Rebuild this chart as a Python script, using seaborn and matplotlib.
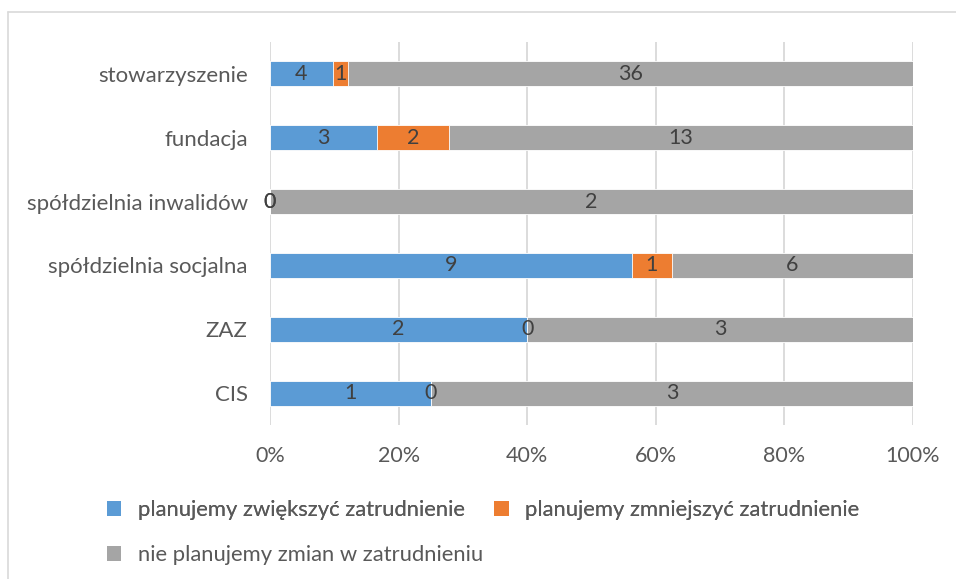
import matplotlib
matplotlib.use("Agg")
import matplotlib.pyplot as plt
import seaborn as sns
import pandas as pd
import numpy as np
from matplotlib.lines import Line2D
from matplotlib.patches import Patch

categories = ["stowarzyszenie", "fundacja", "spółdzielnia inwalidów",
              "spółdzielnia socjalna", "ZAZ", "CIS"]
series_names = ["planujemy zwiększyć zatrudnienie",
                "planujemy zmniejszyć zatrudnienie",
                "nie planujemy zmian w zatrudnieniu"]
increase = [4, 3, 0, 9, 2, 1]
decrease = [1, 2, 0, 1, 0, 0]
no_change = [36, 13, 2, 6, 3, 3]
tick_labels = ["0%", "20%", "40%", "60%", "80%", "100%"]

colors = ["#5B9BD5", "#ED7D31", "#A5A5A5"]
text_color = "#595959"
label_color = "#404040"
fs = 15.5

sns.set_theme(style="white")
plt.rcParams["font.family"] = ["Lato", "DejaVu Sans"]

df = pd.DataFrame({"kategoria": categories,
                   series_names[0]: increase,
                   series_names[1]: decrease,
                   series_names[2]: no_change})
totals = df[series_names].sum(axis=1)
shares = df[series_names].div(totals, axis=0) * 100

fig = plt.figure(figsize=(9.56, 5.79), dpi=100)
ax = fig.add_axes([270 / 956, 1 - 425 / 579, (913 - 270) / 956, (425 - 42) / 579])

# cumulative stacking drawn as layered seaborn barplots (widest first)
cum = shares.cumsum(axis=1)
for i in reversed(range(3)):
    sns.barplot(x=cum[series_names[i]].values, y=categories, orient="h",
                color=colors[i], saturation=1, width=0.39, ax=ax,
                edgecolor="white", linewidth=0.6, order=categories)

# value labels centred in each segment
left = np.zeros(len(categories))
for i, name in enumerate(series_names):
    vals = df[name].values
    w = shares[name].values
    for j in range(len(categories)):
        ax.text(left[j] + w[j] / 2, j, str(vals[j]), ha="center", va="center",
                fontsize=fs, color=label_color)
    left = left + w

ax.set_xlim(0, 100)
ax.set_ylim(len(categories) - 0.5, -0.5)
ax.set_xticks(np.arange(0, 101, 20))
ax.set_xticklabels(tick_labels)
ax.set_xlabel("")
ax.set_ylabel("")
ax.xaxis.grid(True, color="#D9D9D9", linewidth=1.3)
ax.set_axisbelow(True)
for s in ax.spines.values():
    s.set_visible(False)
ax.tick_params(axis="x", length=0, pad=15, labelsize=fs, labelcolor=text_color)
ax.tick_params(axis="y", length=0, pad=16, labelsize=16, labelcolor=text_color)

# legend: two entries on the first row, one on the second
handles = [Patch(facecolor=c, edgecolor="none") for c in colors]
leg_kw = dict(loc="center left", frameon=False, fontsize=15.8,
              labelcolor=text_color, handlelength=0.65, handleheight=0.65,
              handletextpad=0.75, columnspacing=1.35, borderpad=0,
              borderaxespad=0)
leg1 = fig.legend(handles[:2], series_names[:2], ncol=2,
                  bbox_to_anchor=(107 / 956, 1 - 510 / 579), **leg_kw)
fig.add_artist(leg1)
fig.legend(handles[2:], series_names[2:], ncol=1,
           bbox_to_anchor=(107 / 956, 1 - 555 / 579), **leg_kw)

# chart frame
fig.add_artist(Line2D([8 / 956, 1], [1 - 12 / 579, 1 - 12 / 579],
                      transform=fig.transFigure, color="#D9D9D9", linewidth=1.2))
fig.add_artist(Line2D([8 / 956, 8 / 956], [0, 1 - 12 / 579],
                      transform=fig.transFigure, color="#D9D9D9", linewidth=1.2))

fig.savefig("out.png", dpi=100)
